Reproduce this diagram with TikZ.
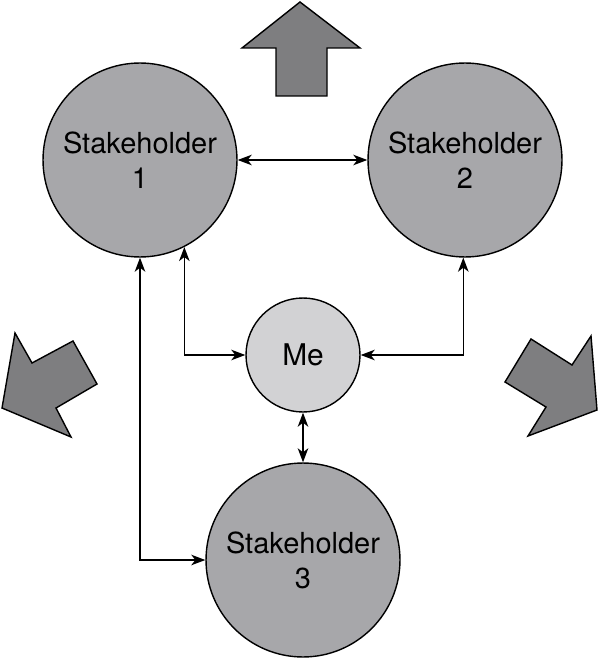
\documentclass[tikz,border=0pt]{standalone}
\usepackage{fontspec}
\setmainfont{TeX Gyre Heros}
\usepackage{xcolor}
\usetikzlibrary{shapes, arrows.meta, positioning, calc}

\definecolor{holdergray}{RGB}{167,167,170}
\definecolor{megray}{RGB}{210,210,212}
\definecolor{pushgray}{RGB}{126,126,128}

\begin{document}
\begin{tikzpicture}[x=0.02cm, y=-0.02cm]
    \tikzstyle{holder} = [circle, draw, line width=0.8pt, fill=holdergray, minimum size=3.88cm,
                          inner sep=0pt, align=center, font=\fontsize{16.5}{20}\selectfont]
    \tikzstyle{self} = [circle, draw, line width=0.8pt, fill=megray, minimum size=2.28cm,
                        inner sep=0pt, font=\fontsize{17}{20}\selectfont]
    \tikzstyle{link} = [line width=0.8pt, {Stealth[length=8pt, width=6pt, inset=2.3pt]}-{Stealth[length=8pt, width=6pt, inset=2.3pt]}]
    \tikzstyle{push} = [draw, line width=0.8pt, fill=pushgray, line join=miter]

    \useasboundingbox (0,0) rectangle (600,658);

    \node [holder] (s1) at (140,160) {Stakeholder\\1};
    \node [holder] (s2) at (465,160) {Stakeholder\\2};
    \node [holder] (s3) at (303,560) {Stakeholder\\3};
    \node [self] (me) at (303,355) {Me};

    % block arrows
    \draw [push] (300,2) -- (360,48) -- (327,48) -- (327,96) -- (276,96) -- (276,48) -- (242,48) -- cycle;
    \draw [push] (2,408) -- (15,333) -- (32,363) -- (73,341) -- (97,384) -- (56,408) -- (71,437) -- cycle;
    \draw [push] (597,410) -- (528,436) -- (546,407) -- (505,382) -- (531,339) -- (572,365) -- (591,336) -- cycle;

    \draw [link] (s1) -- (s2);
    \draw [link] (s1.-63.7) |- (me.west);
    \draw [link] (s2.-91) |- (me.east);
    \draw [link] (me) -- (s3);
    \draw [link] (s1.south) |- (s3.west);
\end{tikzpicture}
\end{document}
